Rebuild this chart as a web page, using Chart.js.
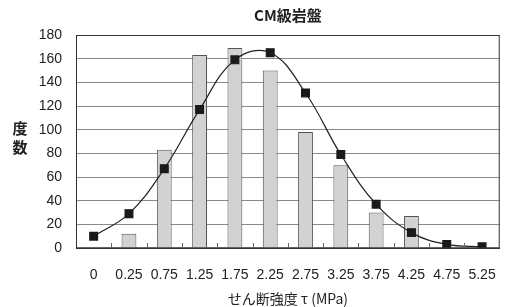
<!DOCTYPE html>
<html>
<head>
<meta charset="utf-8">
<script src="https://cdn.jsdelivr.net/npm/chart.js@4/dist/chart.umd.min.js"></script>
<style>
  html, body { margin: 0; padding: 0; background: #fff; }
  #wrap { width: 507px; height: 307px; }
</style>
</head>
<body>
<div id="wrap"><canvas id="freqChart"></canvas></div>
<script>
// せん断強度 classes (MPa)
var categories = ['0', '0.25', '0.75', '1.25', '1.75', '2.25', '2.75', '3.25', '3.75', '4.25', '4.75', '5.25'];
// measured frequency (bars)
var barCounts = [0, 12, 83, 163, 169, 150, 98, 70, 30, 27, 0, 0];
// fitted distribution (squares + smooth line)
var fitCounts = [10, 29, 67, 117, 159, 165, 131, 79, 37, 13, 3, 1];
var yTicks = [0, 20, 40, 60, 80, 100, 120, 140, 160, 180];

var jpFont = '"Noto Sans CJK JP", "Liberation Sans", sans-serif';
var numFont = '"Liberation Sans", Arial, sans-serif';

// frame, inner tick marks and the stacked y title
var framePlugin = {
	id: 'frame',
	afterDatasetsDraw: function (chart) {
		var ctx = chart.ctx;
		var a = chart.chartArea;
		var x = chart.scales.x;
		ctx.save();
		ctx.strokeStyle = '#333';
		ctx.lineWidth = 1;
		ctx.strokeRect(a.left + 0.5, a.top + 0.5, a.right - a.left - 1, a.bottom - a.top);
		ctx.lineWidth = 1.5;
		ctx.beginPath();
		ctx.moveTo(a.left, a.bottom);
		ctx.lineTo(a.right, a.bottom);
		ctx.stroke();
		ctx.lineWidth = 1;
		ctx.strokeStyle = '#666';
		for (var i = 1; i < categories.length; i++) {
			var px = Math.round((x.getPixelForValue(i - 1) + x.getPixelForValue(i)) / 2) + 0.5;
			ctx.beginPath();
			ctx.moveTo(px, a.bottom);
			ctx.lineTo(px, a.bottom - 5);
			ctx.stroke();
		}
		ctx.fillStyle = '#222';
		ctx.font = 'bold 15px ' + jpFont;
		ctx.textAlign = 'center';
		ctx.textBaseline = 'middle';
		ctx.fillText('度', 20, 128);
		ctx.fillText('数', 20, 147);
		ctx.restore();
	}
};

new Chart(document.getElementById('freqChart'), {
	type: 'bar',
	data: {
		labels: categories,
		datasets: [
			{
				type: 'line',
				label: 'fit',
				data: fitCounts,
				borderColor: '#222',
				borderWidth: 1.2,
				tension: 0.4,
				pointStyle: 'rect',
				pointRadius: 5.5,
				pointBackgroundColor: '#1a1a1a',
				pointBorderColor: '#1a1a1a',
				order: 1
			},
			{
				label: 'count',
				data: barCounts,
				backgroundColor: '#d2d2d2',
				borderColor: '#555',
				borderWidth: 1,
				categoryPercentage: 1,
				barPercentage: 0.42,
				order: 2
			}
		]
	},
	options: {
		responsive: true,
		maintainAspectRatio: false,
		animation: false,
		layout: { padding: { left: 0, right: 1, top: 0, bottom: 0 } },
		plugins: {
			legend: { display: false },
			tooltip: { enabled: false },
			title: {
				display: true,
				text: 'CM級岩盤',
				fullSize: false,
				color: '#222',
				font: { family: jpFont, size: 15, weight: 'bold' },
				padding: { top: 6, bottom: 11 }
			}
		},
		scales: {
			x: {
				grid: { display: false },
				border: { display: false },
				ticks: {
					color: '#222',
					padding: 11,
					maxRotation: 0,
					autoSkip: false,
					font: { family: numFont, size: 14 }
				},
				title: {
					display: true,
					text: 'せん断強度 τ (MPa)',
					color: '#222',
					padding: { top: 4, bottom: 0 },
					font: { family: jpFont, size: 14 }
				},
				afterFit: function (scale) { scale.height = 59; }
			},
			y: {
				min: 0,
				max: 180,
				afterBuildTicks: function (scale) {
					scale.ticks = yTicks.map(function (v) { return { value: v }; });
				},
				grid: { color: '#8a8a8a', lineWidth: 1, drawTicks: false },
				border: { display: false },
				ticks: {
					color: '#222',
					padding: 14,
					font: { family: numFont, size: 14 }
				},
				afterFit: function (scale) { scale.width = 76; }
			}
		}
	},
	plugins: [framePlugin]
});
</script>
</body>
</html>
